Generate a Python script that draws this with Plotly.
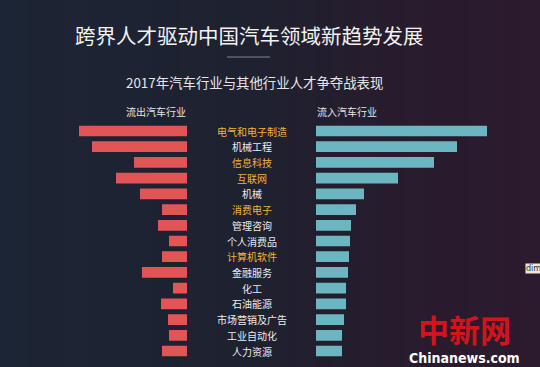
import plotly.graph_objects as go

categories = ["电气和电子制造", "机械工程", "信息科技", "互联网", "机械", "消费电子", "管理咨询",
              "个人消费品", "计算机软件", "金融服务", "化工", "石油能源", "市场营销及广告",
              "工业自动化", "人力资源"]
outflow = [108, 95, 53, 71, 47, 25, 29, 18, 25, 45, 14, 26, 19, 18, 25]
inflow = [171, 141, 118, 82, 48, 40, 35, 34, 33, 32, 30, 30, 28, 26, 26]
highlight = ["电气和电子制造", "信息科技", "互联网", "消费电子", "计算机软件"]

title = "跨界人才驱动中国汽车领域新趋势发展"
subtitle = "2017年汽车行业与其他行业人才争夺战表现"
left_header = "流出汽车行业"
right_header = "流入汽车行业"

W, H = 540, 367
FONT = "Noto Sans CJK SC, Noto Sans, sans-serif"

def px(x):
    return x / W

def py(y):
    return 1 - y / H

fig = go.Figure()
fig.add_trace(go.Bar(y=categories, x=outflow, orientation="h", xaxis="x", yaxis="y",
                     marker=dict(color="#e15555", line=dict(width=0)), width=0.68,
                     hoverinfo="x+y", showlegend=False))
fig.add_trace(go.Bar(y=categories, x=inflow, orientation="h", xaxis="x2", yaxis="y",
                     marker=dict(color="#6cb6c2", line=dict(width=0)), width=0.68,
                     hoverinfo="x+y", showlegend=False))

# gradient background strips
def lerp(c1, c2, t):
    return tuple(round(a + (b - a) * t) for a, b in zip(c1, c2))

stops = [(0.0, (28, 37, 53)), (0.45, (30, 33, 48)), (0.72, (39, 28, 45)), (1.0, (44, 26, 46))]
shapes = []
N = 60
for i in range(N):
    t = (i + 0.5) / N
    for j in range(len(stops) - 1):
        if stops[j][0] <= t <= stops[j + 1][0]:
            tt = (t - stops[j][0]) / (stops[j + 1][0] - stops[j][0])
            c = lerp(stops[j][1], stops[j + 1][1], tt)
            break
    shapes.append(dict(type="rect", xref="paper", yref="paper", x0=i / N, x1=(i + 1) / N + 0.002,
                       y0=0, y1=1, fillcolor="rgb(%d,%d,%d)" % c, line=dict(width=0), layer="below"))
# divider line
shapes.append(dict(type="line", xref="paper", yref="paper", x0=px(227), x1=px(270), y0=py(57), y1=py(57),
                   line=dict(color="#7d8590", width=1)))

annotations = [
    dict(text=title, x=px(249), y=py(35), xref="paper", yref="paper", showarrow=False,
         font=dict(family=FONT, size=20.5, color="#f2f2f2"), xanchor="center", yanchor="middle"),
    dict(text=subtitle, x=px(254), y=py(82), xref="paper", yref="paper", showarrow=False,
         font=dict(family=FONT, size=13.4, color="#e6e6e6"), xanchor="center", yanchor="middle"),
    dict(text=left_header, x=px(188), y=py(111), xref="paper", yref="paper", showarrow=False,
         font=dict(family=FONT, size=10, color="#e6e6e6"), xanchor="right", yanchor="middle"),
    dict(text=right_header, x=px(315), y=py(111), xref="paper", yref="paper", showarrow=False,
         font=dict(family=FONT, size=10, color="#e6e6e6"), xanchor="left", yanchor="middle"),
]
for c in categories:
    annotations.append(dict(text=c, x=px(251.5), xref="paper", y=c, yref="y", showarrow=False,
                            xanchor="center", yanchor="middle",
                            font=dict(family=FONT, size=10,
                                      color="#eeb530" if c in highlight else "#ececec")))
# watermark
annotations.append(dict(text="<b>中新网</b>", x=px(464), y=py(328), xref="paper", yref="paper",
                        showarrow=False, xanchor="center", yanchor="middle",
                        font=dict(family="Noto Sans CJK SC", size=31, color="#d2141c")))
annotations.append(dict(text="<b>Chinanews.com</b>", x=px(464), y=py(358), xref="paper", yref="paper",
                        showarrow=False, xanchor="center", yanchor="middle",
                        font=dict(family="Liberation Sans Narrow, DejaVu Sans Condensed, sans-serif",
                                  size=14, color="#ffffff")))
annotations.append(dict(text="dim", x=px(525), y=py(268), xref="paper", yref="paper",
                        showarrow=False, xanchor="left", yanchor="middle", bgcolor="#efe8d6",
                        borderpad=0, font=dict(family="DejaVu Sans", size=8, color="#333333")))

y_top = 131 - 15.714 * 0.5
y_bot = 351 + 15.714 * 0.5

fig.update_layout(
    width=W, height=H, margin=dict(l=0, r=0, t=0, b=0),
    paper_bgcolor="#1e2232", plot_bgcolor="rgba(0,0,0,0)",
    bargap=0.3,
    xaxis=dict(domain=[0, px(187)], range=[187, 0], visible=False, fixedrange=True),
    xaxis2=dict(domain=[px(316), 1], range=[0, 224], visible=False, fixedrange=True),
    yaxis=dict(domain=[py(y_bot), py(y_top)], range=[14.5, -0.5], type="category",
               categoryorder="array", categoryarray=categories, visible=False, fixedrange=True),
    shapes=shapes, annotations=annotations,
)

fig.write_html("out.html", config={"displayModeBar": False},
               post_script="document.body.style.margin='0';document.body.style.overflow='hidden';")
